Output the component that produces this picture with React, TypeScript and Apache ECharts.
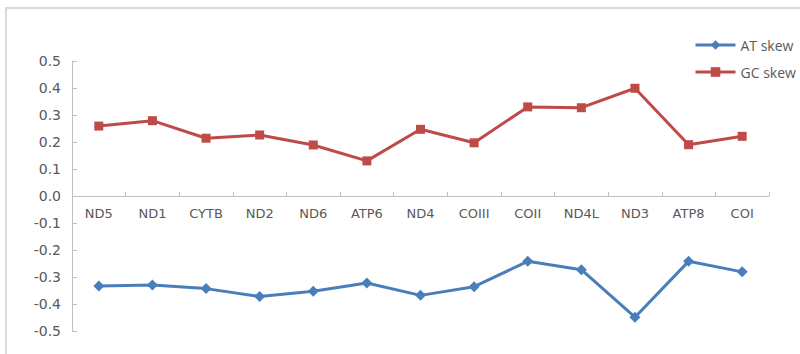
import React, { useEffect, useRef } from "react";
import * as echarts from "echarts";

const categories = ["ND5", "ND1", "CYTB", "ND2", "ND6", "ATP6", "ND4", "COIII", "COII", "ND4L", "ND3", "ATP8", "COI"];
const atSkew = [-0.333, -0.33, -0.343, -0.372, -0.353, -0.322, -0.368, -0.336, -0.242, -0.273, -0.449, -0.242, -0.281];
const gcSkew = [0.259, 0.279, 0.214, 0.226, 0.189, 0.13, 0.247, 0.197, 0.33, 0.327, 0.399, 0.19, 0.221];
const yTicks = { min: -0.5, max: 0.5, interval: 0.1 };

export default function App() {
  const ref = useRef<HTMLDivElement>(null);
  useEffect(() => {
    if (!ref.current) return;
    const chart = echarts.init(ref.current, null, { renderer: "svg" });
    const labelColor = "#595959";
    chart.setOption({
      animation: false,
      backgroundColor: "#ffffff",
      graphic: [
        {
          type: "rect",
          shape: { x: 6, y: 8, width: 820, height: 420 },
          style: { fill: "none", stroke: "#d9d9d9", lineWidth: 2 },
          silent: true,
        },
      ],
      legend: {
        orient: "vertical",
        left: 689,
        top: 32,
        itemWidth: 40,
        itemHeight: 12,
        itemGap: 11,
        lineStyle: { width: 3 },
        textStyle: { fontFamily: "Open Sans", fontSize: 14, color: labelColor, lineHeight: 16 },
        data: ["AT skew", "GC skew"],
      },
      grid: { left: 72, right: 31, top: 61, bottom: 23, containLabel: false },
      xAxis: {
        type: "category",
        data: categories,
        boundaryGap: true,
        position: "bottom",
        offset: -135,
        axisLine: { onZero: false, lineStyle: { color: "#bfbfbf", width: 1 } },
        axisTick: { show: true, inside: true, length: 4, lineStyle: { color: "#bfbfbf" } },
        axisLabel: {
          margin: 11,
          interval: 0,
          fontFamily: "DejaVu Sans",
          fontSize: 13,
          color: labelColor,
        },
        splitLine: { show: false },
      },
      yAxis: {
        type: "value",
        min: yTicks.min,
        max: yTicks.max,
        interval: yTicks.interval,
        axisLine: { show: true, lineStyle: { color: "#bfbfbf", width: 1 } },
        axisTick: { show: true, inside: true, length: 5, lineStyle: { color: "#bfbfbf" } },
        axisLabel: {
          margin: 11,
          fontFamily: "DejaVu Sans",
          fontSize: 14,
          color: labelColor,
          formatter: (v: number) => v.toFixed(1),
        },
        splitLine: { show: false },
      },
      series: [
        {
          name: "AT skew",
          type: "line",
          data: atSkew,
          symbol: "diamond",
          symbolSize: 11,
          lineStyle: { color: "#4a7ebb", width: 3 },
          itemStyle: { color: "#4a7ebb" },
        },
        {
          name: "GC skew",
          type: "line",
          data: gcSkew,
          symbol: "rect",
          symbolSize: 9,
          lineStyle: { color: "#be4b48", width: 3 },
          itemStyle: { color: "#be4b48" },
        },
      ],
    });
    return () => chart.dispose();
  }, []);
  return (
    <div
      ref={ref}
      style={{ position: "fixed", left: 0, top: 0, width: 800, height: 354 }}
    />
  );
}
